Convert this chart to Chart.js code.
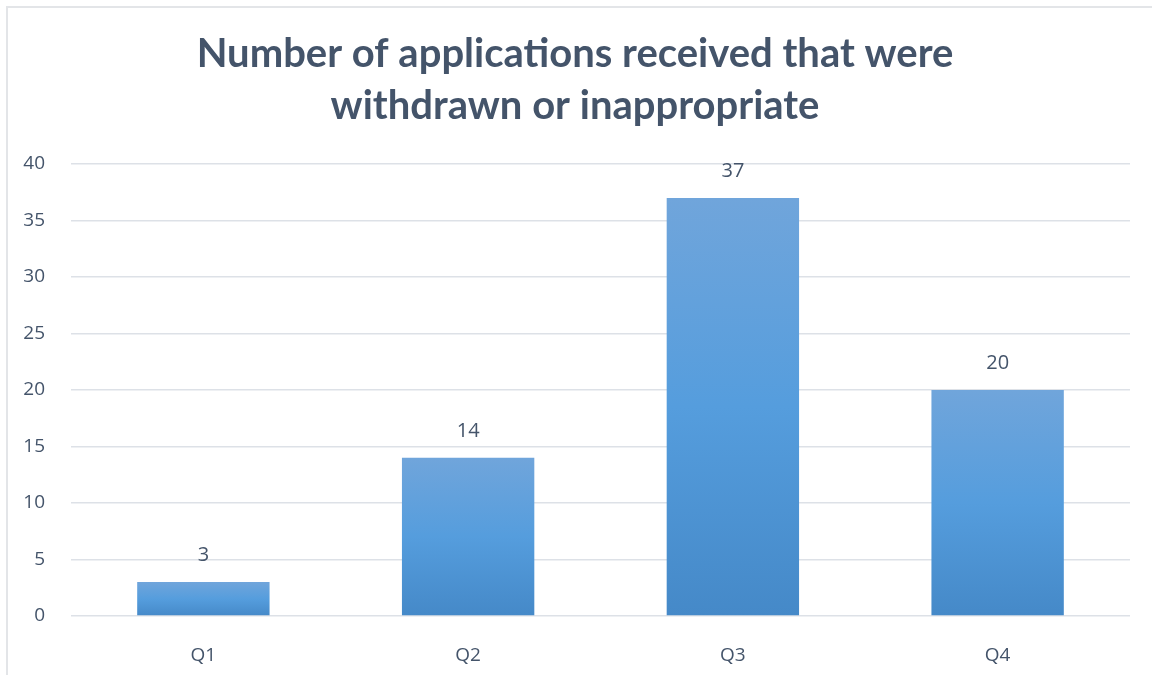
<!DOCTYPE html>
<html>
<head>
<meta charset="utf-8">
<script src="https://cdn.jsdelivr.net/npm/chart.js@4"></script>
<style>
  html, body { margin: 0; padding: 0; background: #fff; }
  #wrap { position: relative; width: 1152px; height: 675px; overflow: hidden; }
  #frame { position: absolute; left: 6px; top: 6px; width: 1160px; height: 700px;
           border: 2px solid #e3e5e8; box-sizing: border-box; }
  canvas { position: absolute; left: 0; top: 0; }
</style>
</head>
<body>
<div id="wrap">
  <div id="frame"></div>
  <canvas id="graph" width="1152" height="675"></canvas>
</div>
<script>
const quarters = ['Q1', 'Q2', 'Q3', 'Q4'];
const applications = [3, 14, 37, 20];
const titleLines = ['Number of applications received that were', 'withdrawn or inappropriate'];

const textColor = '#44546a';

// bar gradient, lighter at the top
function barFill(context) {
  const chart = context.chart;
  const y = chart.scales.y;
  if (!y || !chart.chartArea || context.dataIndex === undefined) return '#5b9bd5';
  const top = y.getPixelForValue(applications[context.dataIndex]);
  const bottom = y.getPixelForValue(0);
  if (!isFinite(top) || !isFinite(bottom) || top === bottom) return '#5b9bd5';
  const g = chart.ctx.createLinearGradient(0, top, 0, bottom);
  g.addColorStop(0, '#70a5db');
  g.addColorStop(0.5, '#559ddd');
  g.addColorStop(1, '#4589c8');
  return g;
}

// values above bars
const valueLabels = {
  id: 'valueLabels',
  afterDatasetsDraw(chart) {
    const ctx = chart.ctx;
    const meta = chart.getDatasetMeta(0);
    ctx.save();
    ctx.font = '20px "Open Sans", sans-serif';
    ctx.fillStyle = textColor;
    ctx.textAlign = 'center';
    ctx.textBaseline = 'middle';
    meta.data.forEach((bar, i) => {
      ctx.fillText(String(applications[i]), bar.x, bar.y - 27);
    });
    ctx.restore();
  }
};

const config = {
  type: 'bar',
  data: {
    labels: quarters,
    datasets: [{
      data: applications,
      backgroundColor: barFill,
      categoryPercentage: 1,
      barPercentage: 0.5
    }]
  },
  options: {
    responsive: false,
    animation: false,
    layout: { padding: { left: 20, right: 22, top: 28, bottom: 0 } },
    plugins: {
      legend: { display: false },
      tooltip: { enabled: false },
      title: {
        display: true,
        text: titleLines,
        color: textColor,
        font: { family: 'Lato', size: 40, weight: 'bold', lineHeight: 1.3 },
        padding: { top: 0, bottom: 32 }
      }
    },
    scales: {
      x: {
        grid: { display: false },
        border: { display: false },
        ticks: { color: textColor, font: { family: 'Open Sans', size: 19 }, padding: 20 },
        afterFit(scale) { scale.height = 59; }
      },
      y: {
        min: 0,
        max: 40,
        ticks: { stepSize: 5, color: textColor, font: { family: 'Open Sans', size: 19 }, padding: 26 },
        grid: { color: '#dde1e7', lineWidth: 1.5, drawTicks: false },
        border: { display: false },
        afterFit(scale) { scale.width = 51; }
      }
    }
  },
  plugins: [valueLabels]
};

const myChart = new Chart(document.getElementById('graph'), config);
</script>
</body>
</html>
